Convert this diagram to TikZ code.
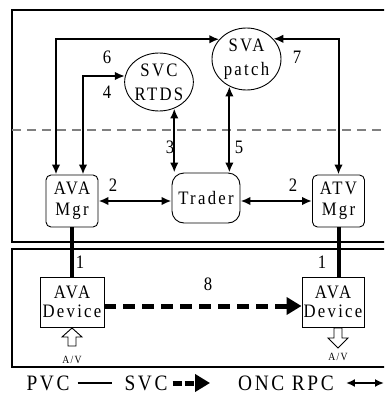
\documentclass[tikz,border=0pt]{standalone}
\usepackage{fontspec}
\usepackage{tikz}
\usetikzlibrary{arrows.meta,positioning,calc,shapes.geometric}
\newfontfamily\figfont[LetterSpace=12,FakeStretch=0.88]{Liberation Serif}
\definecolor{ink}{HTML}{000000}
\definecolor{rule}{HTML}{808080}
\tikzset{rpc/.style={{Latex[length=10pt,width=8.5pt]}-{Latex[length=10pt,width=8.5pt]},line width=2pt,draw=ink},
  pvc/.style={line width=4pt,draw=ink},
  svc/.style={-{Triangle[length=15pt,width=17pt]},line width=5pt,dash pattern=on 12pt off 7pt,draw=ink},
  mgr/.style={draw=ink,line width=0.9pt,rounded corners=5pt,minimum width=52pt,minimum height=52pt,inner sep=0pt,align=center,font=\figfont\fontsize{19}{21}\selectfont},
  dev/.style={mgr,rounded corners=0pt,minimum width=64pt,minimum height=50pt,font=\figfont\fontsize{19}{19}\selectfont},
  blob/.style={ellipse,draw=ink,line width=0.9pt,inner sep=0pt,align=center,font=\figfont\fontsize{19}{24}\selectfont},
  num/.style={font=\figfont\fontsize{19}{19}\selectfont,inner sep=0pt},
  av/.style={draw=ink,line width=0.9pt,fill=white},
  avtext/.style={font=\figfont\fontsize{11}{11}\selectfont,inner sep=0pt},
  legend/.style={font=\figfont\fontsize{22}{22}\selectfont,inner sep=0pt}}
\begin{document}
\begin{tikzpicture}[x=1pt,y=-1pt]
\useasboundingbox (0,0) rectangle (384,394);
\clip (0,0) rectangle (384,394);
% host and network boxes
\draw[line width=2.5pt] (12,10) rectangle (400,242);
\draw[line width=2.5pt] (12,249) rectangle (400,367);
\draw[rule,line width=2pt,dash pattern=on 9pt off 6pt] (12,130) -- (400,130);
% services
\node[blob,minimum width=67pt,minimum height=58pt] (svc) at (159,82) {SVC\\RTDS};
\node[blob,minimum width=69pt,minimum height=62pt] (sva) at (246.5,59) {SVA\\patch};
% managers and trader
\node[mgr] (mgrA) at (72,201) {AVA\\Mgr};
\node[mgr,rounded corners=12pt,minimum width=68pt,minimum height=50pt] (trader) at (206,198) {Trader};
\node[mgr] (atv) at (338.5,201) {ATV\\Mgr};
% devices
\node[dev] (devA) at (72,302) {AVA\\Device};
\node[dev,minimum width=62pt] (devB) at (333,302) {AVA\\Device};
\node[avtext] (avA) at (72,360) {A/V};
\node[avtext] (avB) at (338,357) {A/V};
\draw[av] (68,346) -- (68,337) -- (62,337) -- (72,328) -- (82,337) -- (76,337) -- (76,346) -- cycle;
\draw[av] (334,328) -- (334,338) -- (328,338) -- (338,348) -- (348,338) -- (342,338) -- (342,328) -- cycle;
% connections
\draw[rpc] ([xshift=-16pt]mgrA.north) |- (sva.144);
\draw[rpc] ([xshift=11pt]mgrA.north) |- (svc.170);
\draw[rpc] (svc.300) -- (svc.300 |- trader.north);
\draw[rpc] (sva.238) -- (sva.238 |- trader.north);
\draw[rpc] (atv.north) |- (sva.37);
\draw[rpc] (mgrA.east) -- (trader.west |- mgrA.east);
\draw[rpc] (trader.east |- atv.west) -- (atv.west);
\draw[pvc] (mgrA.south) -- (devA.north);
\draw[pvc] (atv.south) -- (atv.south |- devB.north);
\draw[svc] ([yshift=-4pt]devA.east) -- ([yshift=-4pt]devB.west);
% labels
\node[num] (n6) at (107,57) {6};
\node[num] (n4) at (107,92) {4};
\node[num] (n3) at (170,147) {3};
\node[num] (n5) at (239,147) {5};
\node[num] (n7) at (297,57) {7};
\node[num] (n2a) at (113,185) {2};
\node[num] (n2b) at (293,185) {2};
\node[num] (n1a) at (80,262) {1};
\node[num] (n1b) at (322,262) {1};
\node[num] (n8) at (208,284) {8};
% legend
\node[legend] (pvcL) at (48,383) {PVC};
\node[legend] (svcL) at (146,383) {SVC};
\node[legend] (oncL) at (286,383) {ONC RPC};
\coordinate (endL) at (384,383);
\draw[line width=2.2pt] ([xshift=8pt]pvcL.east) -- ([xshift=-12pt]svcL.west);
\draw[line width=5pt,-{Triangle[length=15pt,width=17pt]},dash pattern=on 9pt off 3pt] ([xshift=5pt]svcL.east) -- ([xshift=-28pt]oncL.west);
\draw[{Latex[length=9pt,width=8pt]}-{Latex[length=9pt,width=8pt]},line width=1.8pt] ([xshift=12pt]oncL.east) -- (endL);
\end{tikzpicture}
\end{document}
